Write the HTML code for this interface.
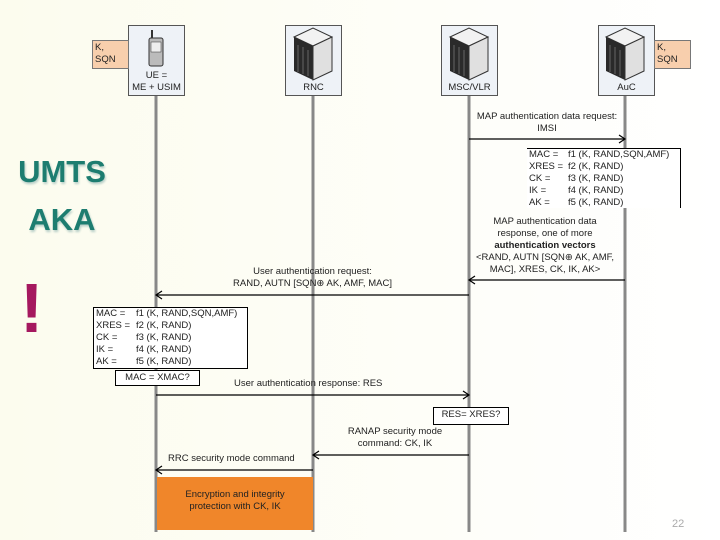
<!DOCTYPE html>
<html><head><style>
body{margin:0;width:720px;height:540px;overflow:hidden;background:linear-gradient(90deg,#fcfcee 0%,#fdfdf4 35%,#ffffff 100%);position:relative;font-family:"Liberation Sans",sans-serif}
.a{position:absolute}
.t{position:absolute;font-size:9.5px;color:#222;white-space:nowrap;line-height:12px}
.c{text-align:center}
</style></head><body>
<div class="a" style="left:12px;top:148px;width:100px;text-align:center;font:bold 31px 'Liberation Sans',sans-serif;color:#1d7d70;line-height:48px;text-shadow:1px 2px 2px #b8cfc8">UMTS<br>AKA</div>
<div class="a" style="left:20px;top:268px;font:bold 70px 'Liberation Sans',sans-serif;color:#a5185f">!</div>
<svg class="a" style="left:0;top:0" width="720" height="540">
<g stroke="#888" stroke-width="3"><line x1="156" y1="95" x2="156" y2="532"/><line x1="313" y1="95" x2="313" y2="532"/><line x1="469" y1="95" x2="469" y2="532"/><line x1="625" y1="95" x2="625" y2="532"/></g>
<g fill="#eef2f7" stroke="#555" stroke-width="1">
<rect x="128.5" y="25.5" width="56" height="70"/><rect x="285.5" y="25.5" width="56" height="70"/><rect x="441.5" y="25.5" width="56" height="70"/><rect x="598.5" y="25.5" width="56" height="70"/></g>
<g fill="#f8cfad" stroke="#777"><rect x="92.5" y="40.5" width="36" height="28"/><rect x="654.5" y="40.5" width="36" height="28"/></g>
<g>
<rect x="149" y="38" width="14" height="28" rx="2" fill="#bbb" stroke="#333"/><rect x="151" y="42" width="10" height="10" fill="#eee" stroke="#333" stroke-width=".5"/><line x1="152" y1="30" x2="152" y2="38" stroke="#333" stroke-width="2"/>
</g>
<g id="srv"><polygon points="294,37 313,28 332,37 313,46" fill="#f2f2f2" stroke="#333"/><polygon points="294,37 313,46 313,80 294,71" fill="#2a2a2a"/><polygon points="313,46 332,37 332,71 313,80" fill="#e0e0e0" stroke="#333"/>
<g stroke="#666" stroke-width="1"><line x1="298" y1="45" x2="298" y2="72"/><line x1="303" y1="47" x2="303" y2="74"/><line x1="308" y1="50" x2="308" y2="76"/></g></g>
<use href="#srv" x="156"/><use href="#srv" x="312"/>
<g stroke="#000" stroke-width="1.2" fill="none">
<line x1="469" y1="139" x2="625" y2="139"/><polyline points="619,135 625,139 619,143"/>
<line x1="625" y1="280" x2="469" y2="280"/><polyline points="475,276 469,280 475,284"/>
<line x1="469" y1="295" x2="156" y2="295"/><polyline points="162,291 156,295 162,299"/>
<line x1="156" y1="395" x2="469" y2="395"/><polyline points="463,391 469,395 463,399"/>
<line x1="469" y1="455" x2="313" y2="455"/><polyline points="319,451 313,455 319,459"/>
<line x1="313" y1="470" x2="156" y2="470"/><polyline points="162,466 156,470 162,474"/>
</g>
<rect x="527" y="148" width="153" height="60" fill="#fff"/>
<polyline points="527,148.5 680.5,148.5 680.5,208" fill="none" stroke="#000"/>
<rect x="93.5" y="307.5" width="154" height="61" fill="#fff" stroke="#000"/>
<rect x="115.5" y="370.5" width="84" height="15" fill="#fff" stroke="#000"/>
<rect x="433.5" y="407.5" width="75" height="17" fill="#fff" stroke="#000"/>
<rect x="157" y="477" width="156" height="53" fill="#f0862a"/>
</svg>
<div class="t" style="left:95px;top:42px">K,<br>SQN</div>
<div class="t" style="left:657px;top:42px">K,<br>SQN</div>
<div class="t c" style="left:128px;top:70px;width:57px">UE =<br>ME + USIM</div>
<div class="t c" style="left:285px;top:82px;width:57px">RNC</div>
<div class="t c" style="left:441px;top:82px;width:57px">MSC/VLR</div>
<div class="t c" style="left:598px;top:82px;width:57px">AuC</div>
<div class="t c" style="left:469px;top:111px;width:156px">MAP authentication data request:<br>IMSI</div>
<div class="t" style="left:529px;top:149px">MAC =<br>XRES =<br>CK =<br>IK =<br>AK =</div>
<div class="t" style="left:568px;top:149px">f1 (K, RAND,SQN,AMF)<br>f2 (K, RAND)<br>f3 (K, RAND)<br>f4 (K, RAND)<br>f5 (K, RAND)</div>
<div class="t c" style="left:460px;top:216px;width:170px">MAP authentication data<br>response, one of more<br><b>authentication vectors</b><br>&lt;RAND, AUTN [SQN⊕ AK, AMF,<br>MAC], XRES, CK, IK, AK&gt;</div>
<div class="t c" style="left:200px;top:266px;width:225px">User authentication request:<br>RAND, AUTN [SQN⊕ AK, AMF, MAC]</div>
<div class="t" style="left:96px;top:308px">MAC =<br>XRES =<br>CK =<br>IK =<br>AK =</div>
<div class="t" style="left:136px;top:308px">f1 (K, RAND,SQN,AMF)<br>f2 (K, RAND)<br>f3 (K, RAND)<br>f4 (K, RAND)<br>f5 (K, RAND)</div>
<div class="t c" style="left:115px;top:372px;width:85px">MAC = XMAC?</div>
<div class="t" style="left:234px;top:378px">User authentication response: RES</div>
<div class="t c" style="left:433px;top:409px;width:76px">RES= XRES?</div>
<div class="t c" style="left:330px;top:426px;width:130px">RANAP security mode<br>command: CK, IK</div>
<div class="t" style="left:168px;top:453px">RRC security mode command</div>
<div class="t c" style="left:157px;top:489px;width:156px">Encryption and integrity<br>protection with CK, IK</div>
<div class="t" style="left:672px;top:518px;color:#aaa;font-size:11px">22</div>
</body></html>
